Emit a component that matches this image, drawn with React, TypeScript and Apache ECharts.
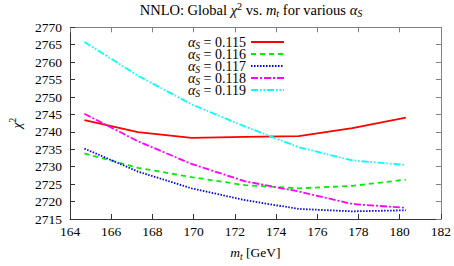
import React, { useEffect, useRef } from "react";
import * as echarts from "echarts";

const mt = [164.7, 167.3, 169.9, 172.5, 175.1, 177.7, 180.3];
const as115 = [2743.4, 2739.9, 2738.3, 2738.55, 2738.8, 2741.1, 2744.1];
const as116 = [2733.8, 2729.7, 2727.0, 2724.7, 2723.8, 2724.5, 2726.3];
const as117 = [2735.2, 2728.6, 2723.8, 2720.4, 2717.9, 2717.2, 2717.5];
const as118 = [2745.2, 2737.3, 2730.8, 2725.8, 2722.9, 2719.3, 2718.2];
const as119 = [2765.8, 2756.1, 2747.9, 2741.5, 2735.6, 2731.8, 2730.5];
const seriesNames = ["0.115", "0.116", "0.117", "0.118", "0.119"];
const seriesValues = [as115, as116, as117, as118, as119];
const colors = ["#ff0000", "#00ee00", "#0000ff", "#ff00ff", "#00ffff"];
const dashes: any[] = [null, [5, 4], [1.5, 1.5], [7, 2, 2, 2], [7, 2, 1.5, 2, 1.5, 2]];

const FONT = "'Liberation Serif', 'Times New Roman', serif";
const FS = 13.5;

const mkRich = (fs: number) => ({
  i: { fontFamily: FONT, fontStyle: "italic", fontSize: fs, color: "#000", fill: "#000", lineHeight: 17 },
  n: { fontFamily: FONT, fontSize: fs, color: "#000", fill: "#000", lineHeight: 17 },
  s: { fontFamily: FONT, fontStyle: "italic", fontSize: fs * 0.7, color: "#000", fill: "#000", lineHeight: fs * 0.7, verticalAlign: "bottom" },
  sup: { fontFamily: FONT, fontSize: fs * 0.7, color: "#000", fill: "#000", lineHeight: fs * 0.7, verticalAlign: "top" },
});
const rich = mkRich(FS);

export default function App() {
  const ref = useRef<HTMLDivElement>(null);
  useEffect(() => {
    if (!ref.current) return;
    const chart = echarts.init(ref.current, null, { renderer: "svg" });
    const dark = "#333";
    const gray = "#808080";
    const legendTextRight = 246;
    const legendLineX0 = 251;
    const legendLineX1 = 284;
    const legendTop = 42;
    const legendStep = 12;
    const legendGraphics: any[] = [];
    seriesNames.forEach((n, k) => {
      const y = legendTop + k * legendStep;
      legendGraphics.push({
        type: "text", x: legendTextRight, y,
        style: {
          text: `{i|α}{s|S}{n| = ${n}}`, rich: mkRich(14), fontFamily: FONT, fontSize: 14,
          fill: "#000", align: "right", verticalAlign: "middle", lineHeight: 17,
        },
      });
      legendGraphics.push({
        type: "line", shape: { x1: legendLineX0, y1: y, x2: legendLineX1, y2: y },
        style: { stroke: colors[k], lineWidth: 1.8, lineDash: dashes[k] || undefined },
      });
    });
    const option: any = {
      animation: false,
      grid: { left: 61.7, right: 13, top: 27.3, bottom: 37, containLabel: false },
      xAxis: [
        {
          type: "value", min: 164, max: 182, interval: 2, position: "bottom",
          axisLine: { lineStyle: { color: dark, width: 1 } },
          axisTick: { inside: true, length: 5, lineStyle: { color: dark } },
          splitLine: { show: false },
          axisLabel: { color: "#000", fontFamily: FONT, fontSize: FS, margin: 5, formatter: (v: number) => String(v) },
          name: "{i|m}{s|t}{n| [GeV]}", nameLocation: "middle", nameGap: 25,
          nameTextStyle: { fontFamily: FONT, fontSize: FS, color: "#000", rich },
        },
        {
          type: "value", min: 164, max: 182, interval: 2, position: "top",
          axisLine: { lineStyle: { color: gray, width: 1 } },
          axisTick: { inside: true, length: 5, lineStyle: { color: gray } },
          splitLine: { show: false }, axisLabel: { show: false },
        },
      ],
      yAxis: [
        {
          type: "value", min: 2715, max: 2770, interval: 5, position: "left",
          axisLine: { show: true, lineStyle: { color: dark, width: 1 } },
          axisTick: { show: true, inside: true, length: 5, lineStyle: { color: dark } },
          splitLine: { show: false },
          axisLabel: { color: "#000", fontFamily: FONT, fontSize: FS, margin: 8, formatter: (v: number) => String(v) },
          name: "{i|χ}{sup|2}", nameLocation: "middle", nameGap: 45, nameRotate: 90,
          nameTextStyle: { fontFamily: FONT, fontSize: FS, color: "#000", rich },
        },
        {
          type: "value", min: 2715, max: 2770, interval: 5, position: "right",
          axisLine: { show: true, lineStyle: { color: gray, width: 1 } },
          axisTick: { show: true, inside: true, length: 5, lineStyle: { color: gray } },
          splitLine: { show: false }, axisLabel: { show: false },
        },
      ],
      graphic: [
        {
          type: "text", x: 251, y: 10,
          style: {
            text: "NNLO: Global {i|χ}{sup|2} vs. {i|m}{s|t} for various {i|α}{s|S}",
            fontFamily: FONT, fontSize: 14.5, fill: "#000", lineHeight: 17,
            align: "center", verticalAlign: "middle", rich: mkRich(14.5),
          },
        },
        ...legendGraphics,
      ],
      series: seriesNames.map((name, k) => ({
        name, type: "line", xAxisIndex: 0, yAxisIndex: 0,
        data: mt.map((x, i) => [x, seriesValues[k][i]]),
        symbol: "none", showSymbol: false,
        lineStyle: { color: colors[k], width: 1.8, type: dashes[k] || "solid" },
        itemStyle: { color: colors[k] },
      })),
    };
    chart.setOption(option);
    return () => chart.dispose();
  }, []);
  return <div ref={ref} style={{ position: "absolute", left: 0, top: 0, width: 454, height: 266 }} />;
}
